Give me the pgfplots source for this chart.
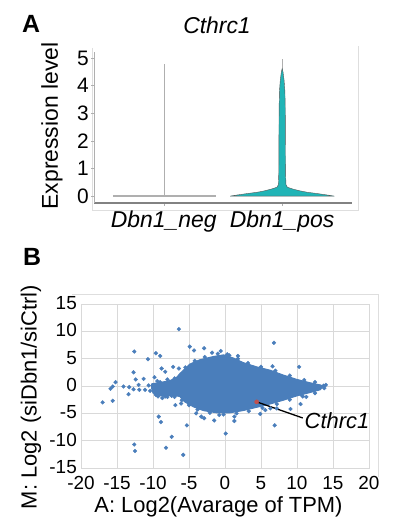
\documentclass[border=0pt]{standalone}
\usepackage{pgfplots}
\pgfplotsset{compat=1.18}
\usepackage{fontspec}
\setmainfont{Liberation Sans}
\newcommand\fs[1]{\fontsize{#1}{#1}\selectfont}
\definecolor{teal1}{RGB}{32,180,182}
\definecolor{ptblue}{RGB}{74,126,187}
\definecolor{ptred}{RGB}{192,80,77}
\definecolor{axgrey}{RGB}{130,130,130}
\definecolor{ltgrey}{RGB}{175,175,175}
\definecolor{vltgrey}{RGB}{222,222,222}
\definecolor{gridgrey}{RGB}{217,217,217}
\begin{document}
\begin{tikzpicture}
\useasboundingbox (0,0) rectangle (393bp,519bp);
% ---------- Panel A ----------
\draw[vltgrey, line width=0.8bp] (92bp,471bp) -- (92bp,309bp) -- (358bp,309bp) -- (358bp,473bp);
\begin{axis}[at={(94bp,316bp)}, anchor=south west, scale only axis,
  width=258bp, height=151bp,
  xmin=0.41, xmax=2.59, ymin=-0.25, ymax=5.22,
  axis x line*=bottom, axis y line*=left,
  x axis line style={draw=axgrey, line width=1.3bp, -},
  y axis line style={draw=ltgrey, line width=0.8bp, -},
  xtick={1,2}, xticklabels={\textit{Dbn1\_neg},\textit{Dbn1\_pos}},
  ytick={0,1,2,3,4,5}, yticklabels={0,1,2,3,4,5},
  tick align=outside, major tick length=3bp,
  tick style={draw=ltgrey, line width=0.6bp},
  xticklabel style={font=\fs{23}, inner sep=0pt, anchor=north, yshift=-5bp},
  yticklabel style={font=\fs{21}, inner sep=0pt, anchor=east, xshift=-2bp},
  clip=false]
% Dbn1_neg violin (flat at zero) and its whisker line
\addplot[ltgrey, line width=1.2bp] coordinates {(0.57,0) (1.44,0)};
\addplot[ltgrey, line width=0.6bp] coordinates {(1,0) (1,4.8)};
% Dbn1_pos violin
\addplot[ltgrey, line width=0.6bp] coordinates {(2,4.5) (2,4.95)};
\addplot[fill=teal1, draw=black!65, line width=0.4bp] coordinates {
 (1.56,0) (1.62,0.04) (1.70,0.09) (1.79,0.14) (1.85,0.19) (1.905,0.25) (1.935,0.29)
 (1.958,0.33) (1.968,0.42) (1.971,0.8) (1.972,1.5) (1.973,2.5) (1.974,3.2)
 (1.977,3.8) (1.984,4.2) (1.993,4.5) (2.0,4.62) (2.007,4.5) (2.016,4.2)
 (2.023,3.8) (2.026,3.2) (2.027,2.5) (2.028,1.5) (2.029,0.8) (2.032,0.42)
 (2.042,0.33) (2.065,0.29) (2.095,0.25) (2.15,0.19) (2.21,0.14) (2.30,0.09)
 (2.38,0.04) (2.44,0) (1.56,0)};
\end{axis}
\node[font=\fs{25}\bfseries] at (31bp,495bp) {A};
\node[font=\fs{23}\itshape] at (217bp,494bp) {Cthrc1};
\node[font=\fs{23}, rotate=90] at (52bp,393bp) {Expression level};
% ---------- Panel B ----------
\draw[vltgrey, line width=0.9bp] (72bp,225bp) -- (378bp,225bp) -- (378bp,42bp);
\begin{axis}[at={(81bp,51bp)}, anchor=south west, scale only axis,
  width=288bp, height=164bp,
  xmin=-20, xmax=20, ymin=-15, ymax=15,
  xtick={-20,-15,-10,-5,0,5,10,15,20},
  xticklabels={-20,-15,-10,-5,0,5,10,15,20},
  ytick={-15,-10,-5,0,5,10,15},
  yticklabels={-15,-10,-5,0,5,10,15},
  grid=major, grid style={draw=gridgrey, line width=0.9bp},
  axis line style={draw=gridgrey, line width=0.9bp},
  major tick length=0pt,
  xticklabel style={font=\fs{19}, inner sep=0pt, anchor=north, yshift=-8bp},
  yticklabel style={font=\fs{19}, inner sep=0pt, anchor=east, xshift=-4bp, yshift=1bp},
  clip=false]
% dense core of the cloud
\addplot[fill=ptblue, draw=ptblue, line width=1bp] coordinates {
 (-10.2,0.4) (-8.8,0.7) (-7.6,1.0) (-6.7,1.6) (-6.25,2.3) (-4.9,4.0) (-3.5,4.8)
 (-1.6,5.4) (-0.2,5.7) (1.2,5.1) (2.5,4.3) (4.4,3.5) (6.25,2.9) (8.1,2.0)
 (10.0,1.2) (11.8,0.6) (13.2,0.2) (13.7,0.0)
 (13.2,-0.7) (11.8,-1.2) (10.0,-1.8) (8.1,-2.6) (6.25,-3.3) (4.4,-3.9) (2.5,-4.5)
 (0.7,-4.9) (-1.2,-4.9) (-3.0,-4.5) (-4.4,-3.8) (-5.6,-2.9) (-6.3,-1.9)
 (-7.6,-1.7) (-9.0,-1.8) (-10.0,-1.3) (-10.2,-0.4) (-10.2,0.4)};
% edge points and outliers
\addplot[only marks, mark=*, mark size=1.9bp, mark options={draw=ptblue, fill=ptblue}] coordinates {
 (-5.5,3.4) (-4.2,4.6) (-2.8,5.3) (-1.0,5.9) (0.6,5.6) (1.8,5.0) (3.2,4.2) (5.0,3.5)
 (7.0,2.8) (9.0,1.9) (11.0,1.1) (12.5,0.7) (14.0,0.2) (13.8,-0.4) (12.5,-1.3)
 (10.8,-1.9) (9.0,-2.5) (7.2,-3.3) (5.2,-4.0) (3.3,-4.6) (1.6,-5.0) (-0.2,-5.2)
 (-2.1,-4.9) (-3.8,-4.3) (-5.0,-3.5) (-6.0,-2.6) (-7.0,-2.0) (-8.3,-1.9)
 (-9.6,-1.6) (-10.4,-0.9) (-10.6,0.1) (-9.4,0.9) (-8.0,1.2) (-7.0,1.4)
 (-6.4,10.4) (6.8,7.9) (-12.6,6.3) (-10.7,4.9) (-9.6,6.0) (-9.0,5.5)
 (-4.9,7.2) (-2.9,6.9) (-4.3,6.5) (-1.8,6.1) (-0.6,6.4) (0.3,5.8) (1.8,5.5)
 (6.6,3.6) (10.3,3.5) (-8.8,3.2) (-8.3,2.6) (-7.2,3.5) (-6.4,3.2)
 (-9.8,1.6) (-9.0,0.7) (-12.7,2.5) (-12.4,1.2) (-11.3,1.3) (-12.0,0.2)
 (-15.2,0.7) (-15.9,-0.5) (-15.6,-0.1) (-14.1,-0.1) (-13.3,-0.2) (-12.7,-0.6)
 (-11.9,-0.7) (-11.1,-0.7) (-13.4,-1.5) (-17.0,-3.0) (-15.6,-2.7)
 (-9.3,-1.9) (-8.7,-2.2) (-8.0,-2.0) (-7.4,-1.8) (-6.9,-3.5) (-6.1,-3.2)
 (-9.2,-5.6) (-8.9,-6.6) (-5.3,-7.2) (-7.4,-9.3) (-8.2,-11.3) (-5.8,-12.6)
 (-12.6,-10.7) (-12.5,-11.9) (0.1,-8.7) (6.9,-7.2) (9.1,-4.2) (10.5,-3.3)
 (1.3,-5.6) (1.3,-6.4) (4.9,-5.1) (5.6,-4.4) (6.3,-4.1) (7.2,-4.1)
 (10.6,-1.6) (11.3,-2.0) (13.2,-0.1) (13.7,0.05)
 (-2.9,-5.9) (-1.5,-6.3) (-0.8,-5.3) (-4.0,-5.0) (-3.3,-5.6)};
% highlighted gene
\addplot[black, line width=1.3bp] coordinates {(4.4,-2.9) (10.8,-5.85)};
\addplot[only marks, mark=*, mark size=2.1bp, mark options={draw=ptred, fill=ptred}] coordinates {(4.4,-2.9)};
\node[anchor=west, font=\fs{22}\itshape, inner sep=1bp] at (axis cs:10.9,-6.4) {Cthrc1};
\end{axis}
\node[font=\fs{25}\bfseries] at (32bp,262bp) {B};
\node[font=\fs{22}, rotate=90] at (31bp,122bp) {M: Log2 (siDbn1/siCtrl)};
\node[font=\fs{22}] at (218.5bp,12bp) {A: Log2(Avarage of TPM)};
\end{tikzpicture}
\end{document}
